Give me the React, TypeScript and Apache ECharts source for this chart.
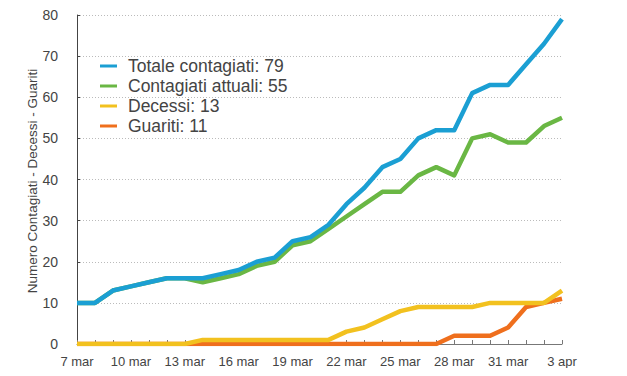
import React, { useEffect, useRef } from "react";
import * as echarts from "echarts";

const days = [
  "7 mar", "8 mar", "9 mar", "10 mar", "11 mar", "12 mar", "13 mar", "14 mar",
  "15 mar", "16 mar", "17 mar", "18 mar", "19 mar", "20 mar", "21 mar", "22 mar",
  "23 mar", "24 mar", "25 mar", "26 mar", "27 mar", "28 mar", "29 mar", "30 mar",
  "31 mar", "1 apr", "2 apr", "3 apr",
];
const totale = [10, 10, 13, 14, 15, 16, 16, 16, 17, 18, 20, 21, 25, 26, 29, 34, 38, 43, 45, 50, 52, 52, 61, 63, 63, 68, 73, 79];
const attuali = [10, 10, 13, 14, 15, 16, 16, 15, 16, 17, 19, 20, 24, 25, 28, 31, 34, 37, 37, 41, 43, 41, 50, 51, 49, 49, 53, 55];
const decessi = [0, 0, 0, 0, 0, 0, 0, 1, 1, 1, 1, 1, 1, 1, 1, 3, 4, 6, 8, 9, 9, 9, 9, 10, 10, 10, 10, 13];
const guariti = [0, 0, 0, 0, 0, 0, 0, 0, 0, 0, 0, 0, 0, 0, 0, 0, 0, 0, 0, 0, 0, 2, 2, 2, 4, 9, 10, 11];
const yAxisTitle = "Numero Contagiati - Decessi - Guariti";

const FONT = "Liberation Sans, Arial, Helvetica, sans-serif";

export default function App() {
  const ref = useRef<HTMLDivElement>(null);
  useEffect(() => {
    if (!ref.current) return;
    const chart = echarts.init(ref.current, undefined, { renderer: "svg" });
    const mk = (name: string, data: number[], color: string, z: number) => ({
      name,
      type: "line",
      data,
      showSymbol: false,
      symbol: "none",
      z,
      lineStyle: { color, width: 4.5, join: "round" },
      itemStyle: { color },
    });
    chart.setOption({
      animation: false,
      textStyle: { fontFamily: FONT },
      grid: { left: 69, right: 57, top: 7, bottom: 20 },
      legend: {
        orient: "vertical",
        left: 92,
        top: 49,
        padding: 0,
        icon: "rect",
        itemWidth: 17,
        itemHeight: 3,
        itemGap: 2,
        textStyle: { fontSize: 17.5, color: "#444", fontFamily: FONT, lineHeight: 17, padding: [0, 0, 0, 6] },
        data: ["Totale contagiati: 79", "Contagiati attuali: 55", "Decessi: 13", "Guariti: 11"],
      },
      graphic: [
        {
          type: "text",
          x: 24,
          y: 173,
          rotation: Math.PI / 2,
          style: {
            text: yAxisTitle.replace(/ /g, "\u00a0"),
            fontSize: 13.5,
            fontFamily: FONT,
            fill: "#444",
            textAlign: "center",
            textVerticalAlign: "middle",
          },
        },
      ],
      xAxis: {
        type: "category",
        data: days,
        boundaryGap: false,
        axisLine: { lineStyle: { color: "#777", width: 1 } },
        axisTick: { inside: true, length: 4, interval: 0, lineStyle: { color: "#777" } },
        axisLabel: { interval: 2, color: "#444", fontSize: 13, margin: 11, fontFamily: FONT },
        splitLine: { show: false },
      },
      yAxis: {
        type: "value",
        min: 0,
        max: 80,
        interval: 10,
        axisLine: { show: true, lineStyle: { color: "#444", width: 1 } },
        axisTick: { show: true, inside: true, length: 3, lineStyle: { color: "#444" } },
        axisLabel: { color: "#444", fontSize: 14, margin: 19, fontFamily: FONT },
        splitLine: { lineStyle: { color: "#bbb", type: [1, 2], width: 1 } },
      },
      series: [
        mk("Guariti: 11", guariti, "#ef6f1d", 2),
        mk("Decessi: 13", decessi, "#f2c11f", 3),
        mk("Contagiati attuali: 55", attuali, "#6ab744", 4),
        mk("Totale contagiati: 79", totale, "#1b9fd3", 5),
      ],
    });
    return () => chart.dispose();
  }, []);
  return <div ref={ref} style={{ width: 611, height: 360 }} />;
}
